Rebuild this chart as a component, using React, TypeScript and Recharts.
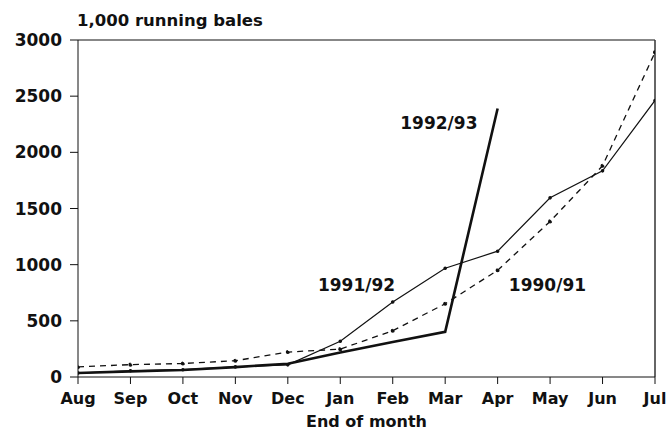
import React from "react";
import {
  LineChart,
  Line,
  XAxis,
  YAxis,
  ReferenceLine,
  ReferenceDot,
} from "recharts";

const months: string[] = ["Aug", "Sep", "Oct", "Nov", "Dec", "Jan", "Feb", "Mar", "Apr", "May", "Jun", "Jul"];
const s9091: number[] = [90, 110, 120, 145, 222, 248, 412, 652, 950, 1385, 1880, 2890];
const s9192: number[] = [35, 55, 65, 90, 108, 318, 668, 968, 1120, 1595, 1835, 2462];
const s9293: (number | null)[] = [35, 50, 62, 88, 118, 218, 312, 402, 2390, null, null, null];
const yTicks: number[] = [0, 500, 1000, 1500, 2000, 2500, 3000];

const data = months.map((m, i) => ({
  idx: i,
  name: m,
  a: s9091[i],
  b: s9192[i],
  c: s9293[i],
}));

const font = "'DejaVu Sans', sans-serif";
const ink = "#111";

const TextLabel = (text: string) => (props: any) => {
  const { viewBox } = props;
  return (
    <text
      x={viewBox.x}
      y={viewBox.y}
      textAnchor="middle"
      dominantBaseline="central"
      fontFamily={font}
      fontWeight="bold"
      fontSize={17}
      fill={ink}
    >
      {text}
    </text>
  );
};

const TitleLabel = (props: any) => {
  const { viewBox } = props;
  return (
    <text
      x={viewBox.x + viewBox.width - 1}
      y={viewBox.y - 14}
      fontFamily={font}
      fontWeight="bold"
      fontSize={16.5}
      fill={ink}
    >
      1,000 running bales
    </text>
  );
};

const App = () => {
  return (
    <div style={{ position: "absolute", left: 0, top: 0, background: "#fff" }}>
      <LineChart
        width={668}
        height={430}
        data={data}
        margin={{ top: 40, right: 13, left: 0, bottom: 0 }}
      >
        <XAxis
          dataKey="idx"
          type="number"
          domain={[0, 11]}
          ticks={months.map((_, i) => i)}
          tickFormatter={(v: number) => months[v]}
          interval={0}
          height={53}
          stroke={ink}
          tickSize={7}
          tickMargin={9}
          tick={{ fontFamily: font, fontWeight: "bold", fontSize: 16, fill: ink }}
          label={{
            value: "End of month",
            position: "insideBottom",
            offset: 3,
            style: { fontFamily: font, fontWeight: "bold", fontSize: 16, fill: ink },
          }}
          allowDataOverflow
        />
        <YAxis
          width={78}
          domain={[0, 3000]}
          ticks={yTicks}
          interval={0}
          stroke={ink}
          tickSize={8}
          tickMargin={8}
          tick={{ fontFamily: font, fontWeight: "bold", fontSize: 17, fill: ink }}
          label={<TitleLabel />}
        />
        <ReferenceLine y={3000} stroke={ink} strokeWidth={1.2} />
        <ReferenceLine x={11} stroke="#333" strokeWidth={1.5} />
        <Line
          dataKey="a"
          stroke={ink}
          strokeWidth={1.3}
          strokeDasharray="6 5"
          dot={{ r: 1.4, fill: ink, stroke: ink }}
          isAnimationActive={false}
        />
        <Line
          dataKey="b"
          stroke={ink}
          strokeWidth={1.2}
          dot={{ r: 1.2, fill: ink, stroke: ink }}
          isAnimationActive={false}
        />
        <Line
          dataKey="c"
          stroke={ink}
          strokeWidth={2.6}
          dot={false}
          connectNulls={false}
          isAnimationActive={false}
        />
        <ReferenceDot x={6.88} y={2262} r={0} fill="none" stroke="none" label={TextLabel("1992/93")} />
        <ReferenceDot x={5.31} y={820} r={0} fill="none" stroke="none" label={TextLabel("1991/92")} />
        <ReferenceDot x={8.95} y={820} r={0} fill="none" stroke="none" label={TextLabel("1990/91")} />
      </LineChart>
    </div>
  );
};

export default App;
